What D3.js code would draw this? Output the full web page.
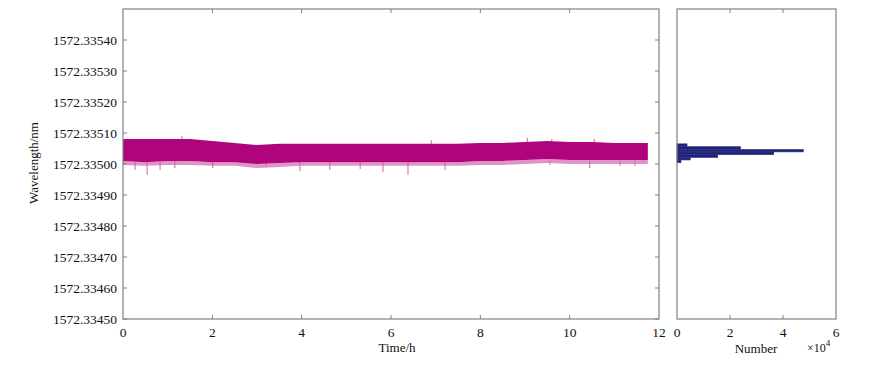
<!DOCTYPE html>
<html>
<head>
<meta charset="utf-8">
<script src="https://cdn.jsdelivr.net/npm/d3@7"></script>
<style>
    body { margin: 0; background: #fff; }
    text { font-family: "Liberation Serif", "Times New Roman", serif; fill: #111; }
    .frame { fill: none; stroke: #808080; stroke-width: 1.2; }
    .tick { stroke: #808080; stroke-width: 1; }
</style>
</head>
<body>
<svg id="canvas" width="876" height="365"></svg>
<script>
// time (h) at which the band edges were read
const timeH = [0, 0.5, 1, 1.5, 2, 2.5, 3, 3.5, 4, 4.5, 5, 5.5, 6, 6.5, 7, 7.5, 8, 8.5, 9, 9.5, 10, 10.5, 11, 11.5, 11.75];
// dense core of the wavelength trace (nm)
const coreTop = [1572.335081, 1572.335081, 1572.335081, 1572.335081, 1572.335074, 1572.335068, 1572.335061, 1572.335065,
    1572.335065, 1572.335065, 1572.335065, 1572.335065, 1572.335065, 1572.335065, 1572.335065, 1572.335065,
    1572.335068, 1572.335068, 1572.335071, 1572.335074, 1572.335071, 1572.335071, 1572.335068, 1572.335068, 1572.335068];
const coreBottom = [1572.335010, 1572.335006, 1572.335010, 1572.335010, 1572.335006, 1572.335006, 1572.335000, 1572.335003,
    1572.335006, 1572.335006, 1572.335006, 1572.335006, 1572.335006, 1572.335006, 1572.335006, 1572.335006,
    1572.335010, 1572.335010, 1572.335013, 1572.335016, 1572.335013, 1572.335013, 1572.335013, 1572.335013, 1572.335013];
// lighter fringe of thinner excursions below the core
const fringeBottom = [1572.334997, 1572.334994, 1572.334997, 1572.334997, 1572.334994, 1572.334994, 1572.334987, 1572.334990,
    1572.334994, 1572.334994, 1572.334994, 1572.334994, 1572.334994, 1572.334994, 1572.334994, 1572.334994,
    1572.334997, 1572.334997, 1572.335000, 1572.335003, 1572.335000, 1572.335000, 1572.335000, 1572.335000, 1572.335000];
// isolated spikes [time h, wavelength nm]
const spikes = [
    [0.27, 1572.334981], [0.54, 1572.334965], [0.83, 1572.334981], [1.16, 1572.334987], [2.01, 1572.334987],
    [3.20, 1572.334990], [3.96, 1572.334977], [4.63, 1572.334981], [5.31, 1572.334984], [5.82, 1572.334974],
    [6.38, 1572.334965], [7.21, 1572.334981], [9.56, 1572.334997], [10.45, 1572.334987], [11.13, 1572.334994],
    [11.46, 1572.334994], [1.32, 1572.335090], [6.90, 1572.335077], [9.05, 1572.335084], [9.60, 1572.335081],
    [10.55, 1572.335081]
];
// histogram: bin edges (nm) and counts
const binEdges = [1572.335004, 1572.335013, 1572.335021, 1572.335030, 1572.335039, 1572.335047, 1572.335056, 1572.335065];
const binCounts = [1500, 5000, 15400, 36500, 47700, 24000, 3800];

const yTicks = [1572.33450, 1572.33460, 1572.33470, 1572.33480, 1572.33490, 1572.33500,
    1572.33510, 1572.33520, 1572.33530, 1572.33540];
const xTicks = [0, 2, 4, 6, 8, 10, 12];
const nTicks = [0, 2, 4, 6];

const svg = d3.select('#canvas');

const plotTop = 9, plotBottom = 319;
const x = d3.scaleLinear().domain([0, 12]).range([123, 659]);
const y = d3.scaleLinear().domain([1572.33450, 1572.33550]).range([plotBottom, plotTop]);
const xn = d3.scaleLinear().domain([0, 60000]).range([677, 836]);

const trace = timeH.map((t, i) => ({t: t, hi: coreTop[i], lo: coreBottom[i], fr: fringeBottom[i]}));

// fringe then core
svg.append('path')
    .datum(trace)
    .attr('d', d3.area().x(d => x(d.t)).y0(d => y(d.fr)).y1(d => y(d.lo)))
    .attr('fill', '#d47ab8')
    .attr('opacity', 0.8);

svg.append('g').selectAll('line')
    .data(spikes)
    .enter().append('line')
    .attr('x1', d => x(d[0]))
    .attr('x2', d => x(d[0]))
    .attr('y1', d => y(d[1]))
    .attr('y2', d => y(d[1] < 1572.33504 ? 1572.335010 : 1572.335065))
    .attr('stroke', '#cc62aa')
    .attr('stroke-width', 1);

svg.append('path')
    .datum(trace)
    .attr('d', d3.area().x(d => x(d.t)).y0(d => y(d.lo)).y1(d => y(d.hi)))
    .attr('fill', '#b0047c');

// histogram bars
const bins = binCounts.map((c, i) => ({c: c, y0: binEdges[i], y1: binEdges[i + 1]}));
svg.append('g').selectAll('rect')
    .data(bins)
    .enter().append('rect')
    .attr('x', xn(0))
    .attr('y', d => y(d.y1))
    .attr('width', d => xn(d.c) - xn(0))
    .attr('height', d => y(d.y0) - y(d.y1))
    .attr('fill', '#1c2080')
    .attr('stroke', '#3a3a70')
    .attr('stroke-width', 0.6);

// frames
svg.append('rect').attr('class', 'frame')
    .attr('x', 123).attr('y', plotTop).attr('width', 659 - 123).attr('height', plotBottom - plotTop);
svg.append('rect').attr('class', 'frame')
    .attr('x', 677).attr('y', plotTop).attr('width', 836 - 677).attr('height', plotBottom - plotTop);

const tl = 4;
// ticks, pointing inward on every side
let g = svg.append('g');
g.selectAll('.yl').data(yTicks).enter().append('line').attr('class', 'tick')
    .attr('x1', 123).attr('x2', 123 + tl).attr('y1', d => y(d)).attr('y2', d => y(d));
g.selectAll('.yr').data(yTicks).enter().append('line').attr('class', 'tick')
    .attr('x1', 659).attr('x2', 659 - tl).attr('y1', d => y(d)).attr('y2', d => y(d));
g.selectAll('.xb').data(xTicks.slice(1, -1)).enter().append('line').attr('class', 'tick')
    .attr('x1', d => x(d)).attr('x2', d => x(d)).attr('y1', plotBottom).attr('y2', plotBottom - tl);
g.selectAll('.xt').data(xTicks.slice(1, -1)).enter().append('line').attr('class', 'tick')
    .attr('x1', d => x(d)).attr('x2', d => x(d)).attr('y1', plotTop).attr('y2', plotTop + tl);
g.selectAll('.nb').data(nTicks.slice(1, -1)).enter().append('line').attr('class', 'tick')
    .attr('x1', d => xn(d * 1e4)).attr('x2', d => xn(d * 1e4)).attr('y1', plotBottom).attr('y2', plotBottom - tl);
g.selectAll('.nt').data(nTicks.slice(1, -1)).enter().append('line').attr('class', 'tick')
    .attr('x1', d => xn(d * 1e4)).attr('x2', d => xn(d * 1e4)).attr('y1', plotTop).attr('y2', plotTop + tl);

// tick labels
svg.append('g').selectAll('text').data(yTicks).enter().append('text')
    .attr('x', 117).attr('y', d => y(d))
    .attr('text-anchor', 'end').attr('dominant-baseline', 'central')
    .style('font-size', '13.5px')
    .text(d => d.toFixed(5));
svg.append('g').selectAll('text').data(xTicks).enter().append('text')
    .attr('x', d => x(d)).attr('y', 332)
    .attr('text-anchor', 'middle').attr('dominant-baseline', 'central')
    .style('font-size', '13.5px')
    .text(d => d);
svg.append('g').selectAll('text').data(nTicks).enter().append('text')
    .attr('x', d => xn(d * 1e4)).attr('y', 332)
    .attr('text-anchor', 'middle').attr('dominant-baseline', 'central')
    .style('font-size', '13.5px')
    .text(d => d);

// axis titles
svg.append('text')
    .attr('transform', 'translate(33,163) rotate(-90)')
    .attr('text-anchor', 'middle').attr('dominant-baseline', 'central')
    .style('font-size', '13px')
    .text('Wavelength/nm');
svg.append('text')
    .attr('x', 397).attr('y', 347)
    .attr('text-anchor', 'middle').attr('dominant-baseline', 'central')
    .style('font-size', '13px')
    .text('Time/h');
svg.append('text')
    .attr('x', 756).attr('y', 348)
    .attr('text-anchor', 'middle').attr('dominant-baseline', 'central')
    .style('font-size', '13px')
    .text('Number');
const mult = svg.append('text')
    .attr('x', 807).attr('y', 348)
    .attr('dominant-baseline', 'central')
    .style('font-size', '12px');
mult.append('tspan').text('×10');
mult.append('tspan').attr('dy', -5).style('font-size', '9px').text('4');
</script>
</body>
</html>
